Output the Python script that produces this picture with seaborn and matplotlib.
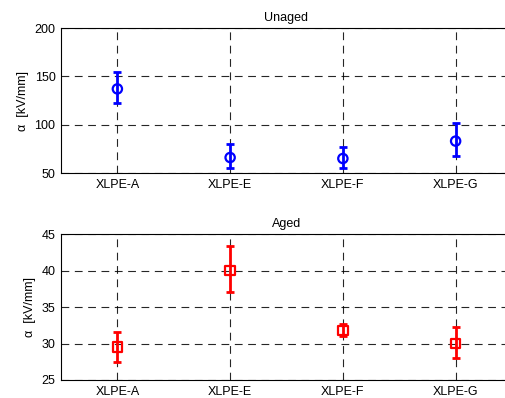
import numpy as np
import pandas as pd
import matplotlib
matplotlib.use("Agg")
import matplotlib.pyplot as plt
import seaborn as sns

# data
samples = ['XLPE-A', 'XLPE-E', 'XLPE-F', 'XLPE-G']
unaged_mean = [137, 66, 65, 83]
unaged_low = [122, 55, 55, 68]
unaged_high = [154, 80, 77, 102]
aged_mean = [29.5, 40.0, 31.8, 30.0]
aged_low = [27.5, 37.0, 31.0, 28.0]
aged_high = [31.6, 43.4, 32.7, 32.2]

sns.set_theme(style="white")
plt.rcParams['font.family'] = ['Liberation Sans', 'DejaVu Sans']
plt.rcParams['font.size'] = 9
plt.rcParams['text.color'] = 'black'
plt.rcParams['axes.labelcolor'] = 'black'
plt.rcParams['xtick.color'] = 'black'
plt.rcParams['ytick.color'] = 'black'

fig = plt.figure(figsize=(5.06, 3.98), dpi=100)
W, H = 506, 398
ax1 = fig.add_axes([61 / W, 1 - 173 / H, (512 - 61) / W, (173 - 28) / H])
ax2 = fig.add_axes([61 / W, 1 - 380 / H, (512 - 61) / W, (380 - 234) / H])


def panel(ax, mean, low, high, color, marker, title, ylim, yticks, ms):
    df = pd.DataFrame({'sample': samples, 'value': mean})
    x = np.arange(len(samples))
    yerr = [np.array(mean) - np.array(low), np.array(high) - np.array(mean)]
    ax.errorbar(x, mean, yerr=yerr, fmt='none', ecolor=color, elinewidth=2,
                capsize=3, capthick=2, zorder=3)
    sns.scatterplot(data=df, x='sample', y='value', ax=ax, marker=marker,
                    s=ms, facecolor='none', edgecolor=color, linewidth=1.6,
                    zorder=4)
    ax.set_xlim(-0.5, 3.5)
    ax.set_ylim(*ylim)
    ax.set_yticks(yticks)
    ax.set_xticks(x)
    ax.set_xticklabels(samples)
    ax.set_xlabel('')
    ax.set_ylabel('\u03b1  [kV/mm]', fontsize=9)
    ax.set_title(title, fontsize=9, pad=5)
    ax.grid(True, color='black', linestyle=(0, (7, 5)), linewidth=0.8, alpha=0.85)
    ax.tick_params(direction='in', length=3, labelsize=9, pad=4)
    for s in ax.spines.values():
        s.set_color('black')
        s.set_linewidth(0.8)


panel(ax1, unaged_mean, unaged_low, unaged_high, 'blue', 'o', 'Unaged',
      (50, 200), [50, 100, 150, 200], 45)
panel(ax2, aged_mean, aged_low, aged_high, 'red', 's', 'Aged',
      (25, 45), [25, 30, 35, 40, 45], 45)

fig.savefig('out.png', dpi=100)
